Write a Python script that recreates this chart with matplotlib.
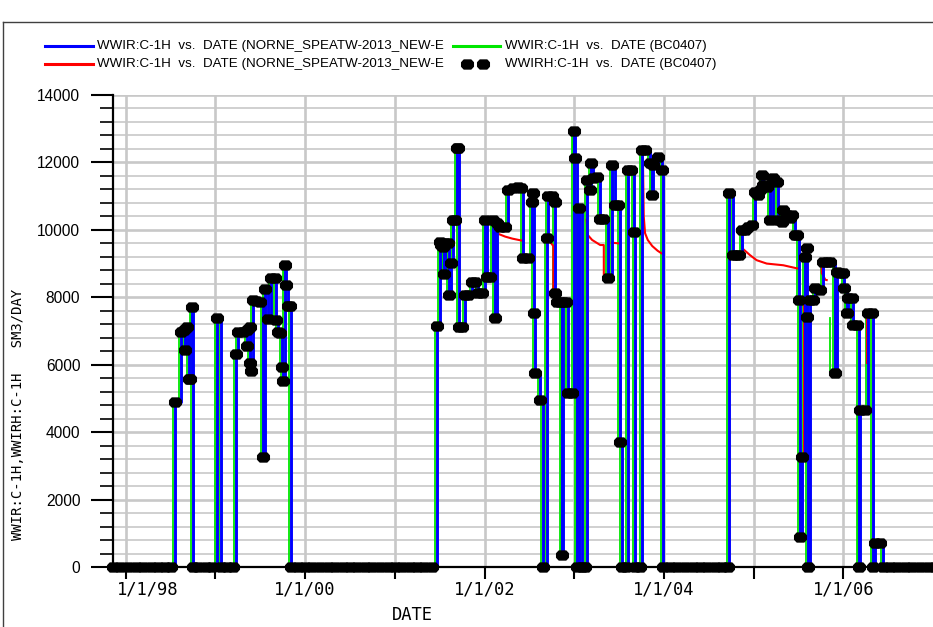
import matplotlib
matplotlib.use("Agg")
import matplotlib.pyplot as plt
from matplotlib.path import Path
from matplotlib.lines import Line2D
from matplotlib.ticker import FixedLocator, MultipleLocator
import matplotlib.transforms as mtransforms

# ---------------------------------------------------------------
# Well C-1H water injection rate, SM3/DAY, dates as decimal years
# (observed WWIRH; the simulated WWIR follows the observed rate)
# ---------------------------------------------------------------
dates_1998 = [1997.86, 1997.94, 1998.03, 1998.11, 1998.19, 1998.28, 1998.36,
              1998.44, 1998.50, 1998.55, 1998.62, 1998.65, 1998.665, 1998.68,
              1998.70, 1998.715, 1998.735, 1998.747, 1998.81, 1998.89,
              1998.96, 1999.014, 1999.059, 1999.13, 1999.20]
rates_1998 = [0, 0, 0, 0, 0, 0, 0,
              0, 0, 4900, 6980, 7030, 6440, 7130,
              5575, 5575, 7700, 0, 0, 0,
              0, 7400, 0, 0, 0]

dates_1999 = [1999.226, 1999.255, 1999.31, 1999.35, 1999.356, 1999.386,
              1999.39, 1999.397, 1999.423, 1999.453, 1999.497, 1999.527,
              1999.553, 1999.59, 1999.62, 1999.66, 1999.68, 1999.70,
              1999.72, 1999.745, 1999.75, 1999.776, 1999.79, 1999.81,
              1999.83, 1999.843, 1999.92, 2000.00, 2000.08, 2000.17,
              2000.25, 2000.33, 2000.42, 2000.50, 2000.58, 2000.67,
              2000.75, 2000.83, 2000.92, 2001.00, 2001.08, 2001.17,
              2001.25, 2001.33, 2001.42]
rates_1999 = [6320, 6980, 6980, 7030, 6560, 7130,
              6040, 5820, 7920, 7900, 7870, 3270,
              8240, 7350, 8570, 8570, 7330, 6980,
              6930, 5920, 5530, 8960, 8360, 7750,
              7750, 0, 0, 0, 0, 0,
              0, 0, 0, 0, 0, 0,
              0, 0, 0, 0, 0, 0,
              0, 0, 0]

dates_2001 = [2001.467, 2001.50, 2001.52, 2001.54, 2001.55, 2001.56, 2001.59,
              2001.605, 2001.63, 2001.65, 2001.67, 2001.69, 2001.705, 2001.71,
              2001.745, 2001.783, 2001.819, 2001.857, 2001.894, 2001.931,
              2001.969, 2002.006, 2002.025, 2002.061, 2002.098, 2002.12,
              2002.136, 2002.173, 2002.228, 2002.265, 2002.321, 2002.377,
              2002.407, 2002.433, 2002.485, 2002.526, 2002.544, 2002.552,
              2002.563, 2002.619, 2002.656, 2002.693, 2002.711, 2002.749,
              2002.786, 2002.79, 2002.805, 2002.842, 2002.861, 2002.875,
              2002.909, 2002.934, 2002.972, 2002.998, 2003.009, 2003.031,
              2003.057, 2003.087, 2003.120, 2003.139, 2003.176, 2003.184,
              2003.213, 2003.251, 2003.288, 2003.324, 2003.380, 2003.418,
              2003.455, 2003.492, 2003.511, 2003.533, 2003.58, 2003.60,
              2003.635, 2003.665, 2003.68, 2003.73, 2003.755, 2003.79,
              2003.845, 2003.864, 2003.882, 2003.938, 2003.976, 2003.99,
              2004.07, 2004.15, 2004.23, 2004.32, 2004.40, 2004.48,
              2004.57, 2004.65, 2004.71]
rates_2001 = [7160, 9650, 9550, 9500, 8690, 9600, 9600,
              8070, 9010, 10290, 10290, 12440, 12440, 7130,
              7130, 8070, 8070, 8460, 8460, 8120,
              8120, 10290, 8610, 8610, 10290, 7380,
              10190, 10090, 10070, 11180, 11230, 11280,
              11230, 9160, 9160, 10830, 11100, 7520,
              5740, 4950, 0, 9750, 11000, 11000,
              10830, 8120, 7870, 7870, 360, 7870,
              7870, 5150, 5150, 12940, 12120, 0,
              10640, 0, 0, 11480, 11180, 11990,
              11530, 11580, 10320, 10320, 8560, 11920,
              10740, 10740, 3720, 0, 0, 11770,
              11770, 9950, 0, 0, 12370, 12370,
              11970, 11030, 11920, 12170, 11770, 0,
              0, 0, 0, 0, 0, 0,
              0, 0, 0]

dates_2004 = [2004.729, 2004.774, 2004.804, 2004.837, 2004.867, 2004.904,
              2004.941, 2004.979, 2005.016, 2005.052, 2005.071, 2005.090,
              2005.108, 2005.146, 2005.183, 2005.220, 2005.258, 2005.275,
              2005.313, 2005.331, 2005.369, 2005.406, 2005.425, 2005.462,
              2005.484, 2005.510, 2005.515, 2005.536, 2005.573, 2005.592,
              2005.599, 2005.610, 2005.629, 2005.662, 2005.684, 2005.740,
              2005.777, 2005.815, 2005.852, 2005.908, 2005.926, 2005.963,
              2006.000, 2006.008, 2006.038, 2006.056, 2006.094, 2006.112,
              2006.149, 2006.178, 2006.186, 2006.242, 2006.279, 2006.317,
              2006.334, 2006.353, 2006.409, 2006.439, 2006.52, 2006.60,
              2006.69, 2006.77, 2006.85, 2006.94, 2007.02]
rates_2004 = [11100, 9250, 9250, 9250, 9990, 9990,
              10090, 10140, 11130, 11030, 11180, 11630,
              11330, 11280, 10290, 11530, 11430, 10290,
              10240, 10590, 10440, 10340, 10440, 9850,
              9850, 7920, 900, 3270, 9200, 9450,
              7420, 0, 7920, 7920, 8270, 8220,
              9060, 9060, 9060, 5740, 8760, 8710,
              8710, 8270, 7540, 7970, 7970, 7180,
              7180, 0, 4660, 4660, 7520, 7520,
              0, 700, 700, 0, 0, 0,
              0, 0, 0, 0, 0]

# Second simulation case: periods where its rate falls below the target
red_2002_dates = [2002.098, 2002.12, 2002.136, 2002.23, 2002.31, 2002.40, 2002.43, 2002.433]
red_2002_rates = [10290, 9950, 9900, 9800, 9740, 9690, 9680, 9160]
red_2002b_dates = [2002.693, 2002.72, 2002.767, 2002.767]
red_2002b_rates = [9750, 9680, 9520, 8120]
red_2003_dates = [2003.139, 2003.15, 2003.20, 2003.26, 2003.29, 2003.33, 2003.33]
red_2003_rates = [10300, 9850, 9700, 9600, 9550, 9550, 8560]
red_2003b_dates = [2003.418, 2003.455, 2003.492]
red_2003b_rates = [9620, 9610, 9600]
red_2003c_dates = [2003.755, 2003.765, 2003.775, 2003.79, 2003.82, 2003.87, 2003.93, 2003.976]
red_2003c_rates = [12370, 12300, 10400, 9900, 9700, 9520, 9380, 9300]
red_2005_dates = [2004.867, 2004.875, 2004.96, 2005.034, 2005.146, 2005.331, 2005.48, 2005.50]
red_2005_rates = [9990, 9450, 9250, 9100, 9000, 8950, 8860, 8850]
red_2005b_dates = [2005.565, 2005.565]
red_2005b_rates = [7920, 3380]
red_2005c_dates = [2005.76, 2005.76, 2005.80, 2005.815]
red_2005c_rates = [9060, 8720, 8520, 8510]
red_2006_dates = [2006.26, 2006.26]
red_2006_rates = [7420, 6050]

# Reference case BC0407: short drop not in the target schedule
green_2005_dates = [2005.87, 2005.87]
green_2005_rates = [7400, 5840]

year_ticks = [1998, 1999, 2000, 2001, 2002, 2003, 2004, 2005, 2006]
year_labels = ["1/1/98", "", "1/1/00", "", "1/1/02", "", "1/1/04", "", "1/1/06"]
rate_ticks = [0, 2000, 4000, 6000, 8000, 10000, 12000, 14000]

legend_labels = [
    "WWIR:C-1H  vs.  DATE (NORNE_SPEATW-2013_NEW-E",
    "WWIR:C-1H  vs.  DATE (NORNE_SPEATW-2013_NEW-E",
    "WWIR:C-1H  vs.  DATE (BC0407)",
    "WWIRH:C-1H  vs.  DATE (BC0407)",
]

hist_dates = dates_1998 + dates_1999 + dates_2001 + dates_2004
hist_rates = rates_1998 + rates_1999 + rates_2001 + rates_2004
red_segments = [
    (red_2002_dates, red_2002_rates), (red_2002b_dates, red_2002b_rates),
    (red_2003_dates, red_2003_rates), (red_2003b_dates, red_2003b_rates),
    (red_2003c_dates, red_2003c_rates), (red_2005_dates, red_2005_rates),
    (red_2005b_dates, red_2005b_rates), (red_2005c_dates, red_2005c_rates),
    (red_2006_dates, red_2006_rates),
]

W, H = 933, 627
BLUE, RED, GREEN = "#0000ff", "#ff0000", "#00e600"
GRID = "#c8c8c8"
MONO = "DejaVu Sans Mono"
SANS = "Liberation Sans"

# wide octagon used for the observed points
octagon = Path([(-0.6, -0.2), (-0.36, -0.46), (0.36, -0.46), (0.6, -0.2),
                (0.6, 0.2), (0.36, 0.46), (-0.36, 0.46), (-0.6, 0.2),
                (-0.6, -0.2)], closed=True)

fig = plt.figure(figsize=(W / 100, H / 100), dpi=100)
ax = fig.add_axes([113 / W, 60 / H, 820 / W, 472 / H])

ax.set_xlim(1997.858, 2007.0)
ax.set_ylim(0, 14000)

# grid
ax.set_axisbelow(True)
ax.xaxis.set_major_locator(FixedLocator(year_ticks))
ax.yaxis.set_major_locator(FixedLocator(rate_ticks))
ax.yaxis.set_minor_locator(MultipleLocator(400))
ax.grid(which="major", axis="x", color=GRID, lw=1.9)
ax.grid(which="major", axis="y", color=GRID, lw=1.9)
ax.grid(which="minor", axis="y", color=GRID, lw=1.2)

# simulated rates and observed points
shift_left = mtransforms.offset_copy(ax.transData, fig=fig, x=-2, y=0, units="dots")
ax.step(hist_dates, hist_rates, where="post", color=GREEN, lw=1.3,
        transform=shift_left, zorder=2)
ax.plot(green_2005_dates, green_2005_rates, color=GREEN, lw=1.3,
        transform=shift_left, zorder=2)
for d, r in red_segments:
    ax.plot(d, r, color=RED, lw=1.5, zorder=3)
ax.step(hist_dates, hist_rates, where="post", color=BLUE, lw=2.1, zorder=4)
ax.plot(hist_dates, hist_rates, ls="none", marker=octagon, ms=8.4,
        color="black", mec="black", zorder=6, clip_on=False)

# axes styling
for side in ("top", "right"):
    ax.spines[side].set_visible(False)
for side in ("left", "bottom"):
    ax.spines[side].set_linewidth(1.6)
    ax.spines[side].set_zorder(5)

ax.set_xticks(year_ticks)
ax.set_xticklabels(year_labels, fontfamily=MONO, fontsize=12.3)
ax.set_yticks(rate_ticks)
ax.set_yticklabels([str(v) for v in rate_ticks], fontfamily=SANS, fontsize=11.2)
ax.tick_params(axis="x", which="major", direction="out", length=8.5, width=1.5, pad=1)
ax.tick_params(axis="y", which="major", direction="out", length=16, width=1.5, pad=7.5)
ax.tick_params(axis="y", which="minor", direction="out", length=9.5, width=1.2)
first = ax.get_xticklabels()[0]
first.set_transform(first.get_transform() +
                    mtransforms.ScaledTranslation(0.22, 0, fig.dpi_scale_trans))

fig.text(412 / W, 1 - 615 / H, "DATE", fontfamily=MONO, fontsize=12.3,
         ha="center", va="center")
fig.text(18 / W, 1 - 414 / H, "WWIR:C-1H,WWIRH:C-1H   SM3/DAY", fontfamily=MONO,
         fontsize=10, rotation=90, ha="center", va="center")

# legend, drawn in figure pixels
def fx(x):
    return x / W

def fy(y):
    return 1 - y / H

row1, row2 = 46, 64
fig.add_artist(Line2D([fx(45), fx(93)], [fy(row1), fy(row1)], color=BLUE, lw=2.2))
fig.add_artist(Line2D([fx(45), fx(93)], [fy(row2), fy(row2)], color=RED, lw=2.2))
fig.add_artist(Line2D([fx(453), fx(500)], [fy(row1), fy(row1)], color=GREEN, lw=2.2))
fig.add_artist(Line2D([fx(467), fx(483)], [fy(row2), fy(row2)], ls="none",
                      marker=octagon, ms=8.4, color="black"))
legend_pos = [(97, row1), (97, row2), (505, row1), (505, row2)]
for (lx, ly), lab in zip(legend_pos, legend_labels):
    fig.text(fx(lx), fy(ly), lab, fontfamily=SANS, fontsize=9.6,
             ha="left", va="center")

# outer frame (left and top edges)
fig.add_artist(Line2D([fx(2.5), fx(2.5)], [fy(22), 0], color="#404040", lw=1.0))
fig.add_artist(Line2D([fx(2.5), 1], [fy(22), fy(22)], color="#404040", lw=1.0))

fig.savefig("out.png", dpi=100)
